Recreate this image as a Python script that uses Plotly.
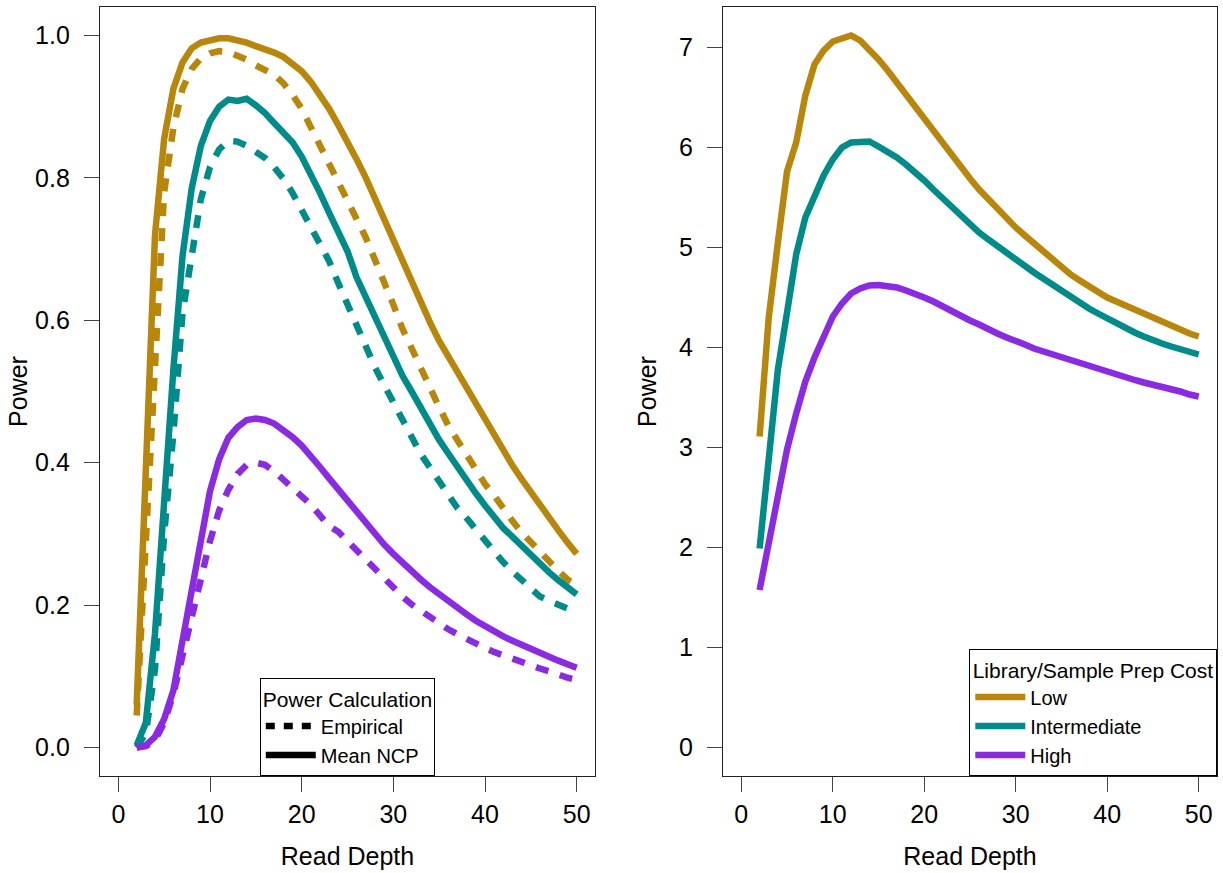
import plotly.graph_objects as go

# ---------------- data ----------------
depth = list(range(2, 51))

# Left panel: power (Empirical = dashed, Mean NCP = solid)
low_ncp = [0.06, 0.42, 0.72, 0.855, 0.925, 0.962, 0.982, 0.99, 0.994, 0.996, 0.996, 0.994, 0.99, 0.985,
           0.981, 0.976, 0.97, 0.961, 0.95, 0.935, 0.917, 0.897, 0.874, 0.852, 0.826, 0.8, 0.771, 0.74,
           0.71, 0.682, 0.652, 0.624, 0.597, 0.571, 0.549, 0.526, 0.503, 0.48, 0.458, 0.437, 0.416,
           0.396, 0.377, 0.358, 0.34, 0.322, 0.305, 0.288, 0.272]
low_emp = [0.045, 0.3, 0.54, 0.78, 0.87, 0.925, 0.953, 0.968, 0.975, 0.978, 0.977, 0.972, 0.966, 0.958,
           0.952, 0.945, 0.933, 0.917, 0.897, 0.872, 0.845, 0.821, 0.796, 0.768, 0.742, 0.716, 0.686,
           0.655, 0.622, 0.588, 0.56, 0.529, 0.503, 0.478, 0.452, 0.432, 0.412, 0.389, 0.37, 0.354,
           0.335, 0.318, 0.302, 0.288, 0.274, 0.26, 0.248, 0.236, 0.228]
int_ncp = [0.003, 0.035, 0.16, 0.36, 0.53, 0.69, 0.785, 0.845, 0.88, 0.9, 0.91, 0.908, 0.911, 0.902,
           0.891, 0.877, 0.862, 0.85, 0.83, 0.806, 0.779, 0.751, 0.723, 0.697, 0.66, 0.632, 0.605,
           0.575, 0.546, 0.522, 0.5, 0.477, 0.455, 0.432, 0.413, 0.393, 0.375, 0.357, 0.34, 0.324,
           0.308, 0.296, 0.283, 0.27, 0.258, 0.246, 0.235, 0.225, 0.215]
int_emp = [0.0, 0.02, 0.11, 0.3, 0.44, 0.61, 0.69, 0.77, 0.815, 0.84, 0.852, 0.851, 0.845, 0.837,
           0.828, 0.815, 0.799, 0.779, 0.755, 0.729, 0.707, 0.683, 0.652, 0.622, 0.591, 0.561, 0.534,
           0.509, 0.485, 0.46, 0.433, 0.412, 0.393, 0.374, 0.353, 0.336, 0.322, 0.306, 0.289, 0.274,
           0.26, 0.247, 0.235, 0.222, 0.212, 0.206, 0.2, 0.195, 0.19]
high_ncp = [0.0, 0.003, 0.015, 0.04, 0.08, 0.15, 0.23, 0.3, 0.36, 0.405, 0.435, 0.45, 0.46, 0.462,
            0.46, 0.455, 0.446, 0.436, 0.424, 0.41, 0.394, 0.378, 0.362, 0.346, 0.331, 0.315, 0.3,
            0.285, 0.272, 0.259, 0.247, 0.236, 0.225, 0.215, 0.206, 0.196, 0.187, 0.178, 0.17, 0.163,
            0.156, 0.15, 0.144, 0.138, 0.133, 0.127, 0.122, 0.117, 0.112]
high_emp = [0.0, 0.002, 0.01, 0.035, 0.075, 0.13, 0.19, 0.24, 0.29, 0.333, 0.362, 0.384, 0.397, 0.4,
            0.397, 0.388, 0.377, 0.365, 0.354, 0.341, 0.326, 0.311, 0.303, 0.29, 0.275, 0.262, 0.25,
            0.237, 0.223, 0.212, 0.201, 0.192, 0.182, 0.174, 0.166, 0.159, 0.152, 0.146, 0.14, 0.134,
            0.129, 0.124, 0.119, 0.115, 0.111, 0.107, 0.102, 0.098, 0.095]

# Right panel
low_r = [3.11, 4.3, 5.05, 5.76, 6.05, 6.52, 6.83, 6.97, 7.06, 7.09, 7.12, 7.07, 6.98, 6.88, 6.77, 6.65,
         6.53, 6.41, 6.28, 6.15, 6.03, 5.91, 5.8, 5.69, 5.58, 5.48, 5.38, 5.29, 5.2, 5.12, 5.04, 4.96,
         4.88, 4.8, 4.73, 4.67, 4.61, 4.555, 4.5, 4.46, 4.42, 4.37, 4.33, 4.29, 4.25, 4.21, 4.18, 4.14, 4.11]
int_r = [1.99, 2.95, 3.78, 4.35, 4.93, 5.3, 5.52, 5.72, 5.88, 6.0, 6.05, 6.05, 6.06, 6.01, 5.96, 5.9,
         5.83, 5.76, 5.67, 5.58, 5.49, 5.4, 5.31, 5.23, 5.15, 5.08, 5.01, 4.94, 4.87, 4.81, 4.75, 4.69,
         4.63, 4.57, 4.5, 4.45, 4.39, 4.34, 4.29, 4.24, 4.19, 4.15, 4.11, 4.07, 4.04, 4.01, 3.98, 3.95, 3.93]
high_r = [1.575, 2.05, 2.55, 2.98, 3.34, 3.66, 3.9, 4.12, 4.31, 4.44, 4.54, 4.59, 4.62, 4.625, 4.62,
          4.6, 4.57, 4.54, 4.5, 4.46, 4.41, 4.36, 4.32, 4.27, 4.23, 4.18, 4.14, 4.1, 4.07, 4.03, 3.99,
          3.96, 3.93, 3.9, 3.87, 3.84, 3.81, 3.78, 3.76, 3.73, 3.7, 3.675, 3.65, 3.63, 3.6, 3.58, 3.56,
          3.53, 3.51]

cost_levels = ["Low", "Intermediate", "High"]
colors = {"Low": "#B8860B", "Intermediate": "#008B8B", "High": "#8A2BE2"}
x_ticks = [0, 10, 20, 30, 40, 50]
y_ticks_left = [0.0, 0.2, 0.4, 0.6, 0.8, 1.0]
y_ticks_right = [0, 1, 2, 3, 4, 5, 6, 7]

# ---------------- figure ----------------
LW = 6.5
DASH = "13px,12px"
FONT = "Liberation Sans, Arial, Helvetica, sans-serif"

fig = go.Figure()

left_series = [("Low", low_emp, low_ncp), ("Intermediate", int_emp, int_ncp), ("High", high_emp, high_ncp)]
for lvl, emp, ncp in left_series:
    fig.add_trace(go.Scatter(x=depth, y=emp, mode="lines", showlegend=False,
                             line=dict(color=colors[lvl], width=LW, dash=DASH),
                             xaxis="x", yaxis="y", hoverinfo="skip"))
    fig.add_trace(go.Scatter(x=depth, y=ncp, mode="lines", showlegend=False,
                             line=dict(color=colors[lvl], width=LW),
                             xaxis="x", yaxis="y", hoverinfo="skip"))

# legend entries for the left panel
fig.add_trace(go.Scatter(x=[None], y=[None], mode="lines", name="Empirical",
                         line=dict(color="black", width=LW, dash="9px,9px"),
                         legend="legend", xaxis="x", yaxis="y"))
fig.add_trace(go.Scatter(x=[None], y=[None], mode="lines", name="Mean NCP",
                         line=dict(color="black", width=LW),
                         legend="legend", xaxis="x", yaxis="y"))

for lvl, vals in zip(cost_levels, [low_r, int_r, high_r]):
    fig.add_trace(go.Scatter(x=depth, y=vals, mode="lines", name=lvl,
                             line=dict(color=colors[lvl], width=LW),
                             legend="legend2", xaxis="x2", yaxis="y2", hoverinfo="skip"))

W, H = 1223, 873
axis_common = dict(showgrid=False, zeroline=False, showline=True, mirror=True,
                   linecolor="#222222", linewidth=1.3, ticks="outside", ticklen=15,
                   tickwidth=1.3, tickcolor="#444444",
                   tickfont=dict(size=25, color="black", family=FONT))

fig.update_layout(
    width=W, height=H,
    margin=dict(l=0, r=0, t=7, b=97),
    paper_bgcolor="white", plot_bgcolor="white",
    font=dict(family=FONT, color="black"),
    xaxis=dict(domain=[100 / W, 595 / W], range=[-2, 52], tickvals=x_ticks,
               title=dict(text="Read Depth", font=dict(size=25), standoff=20),
               ticklabelstandoff=1, anchor="y", **axis_common),
    yaxis=dict(range=[-0.04, 1.04], tickvals=y_ticks_left, tickformat=".1f",
               title=dict(text="Power", font=dict(size=25), standoff=0),
               ticklabelstandoff=9, anchor="x", **axis_common),
    xaxis2=dict(domain=[723 / W, 1217 / W], range=[-2, 52], tickvals=x_ticks,
                title=dict(text="Read Depth", font=dict(size=25), standoff=20),
                ticklabelstandoff=1, anchor="y2", **axis_common),
    yaxis2=dict(range=[-0.285, 7.405], tickvals=y_ticks_right,
                title=dict(text="Power", font=dict(size=25), standoff=15),
                ticklabelstandoff=9, anchor="x2", **axis_common),
    legend=dict(title=dict(text="Power Calculation", side="top center", font=dict(size=21)),
                x=347.5 / W, xanchor="center", y=0, yanchor="bottom",
                bordercolor="black", borderwidth=1.3, bgcolor="white",
                font=dict(size=20, color="black"), tracegroupgap=0, itemwidth=50),
    legend2=dict(title=dict(text="Library/Sample Prep Cost", side="top center", font=dict(size=21)),
                 x=1217 / W, xanchor="right", y=0, yanchor="bottom",
                 bordercolor="black", borderwidth=1.3, bgcolor="white",
                 font=dict(size=20, color="black"), tracegroupgap=0, itemwidth=50),
)

fig.write_html("out.html")
